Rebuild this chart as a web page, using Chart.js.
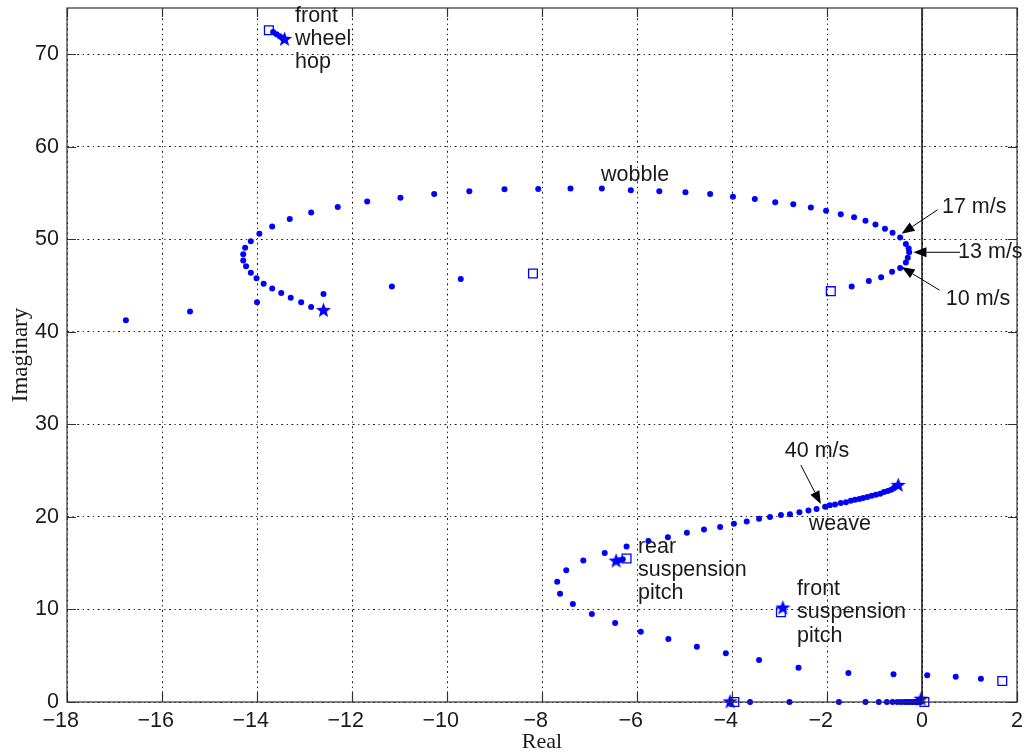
<!DOCTYPE html>
<html>
<head>
<meta charset="utf-8">
<script src="https://cdn.jsdelivr.net/npm/chart.js@4.4.1/dist/chart.umd.min.js"></script>
<style>
  html, body { margin: 0; padding: 0; background: #fff; }
</style>
</head>
<body>
<canvas id="locus" width="1026" height="756"></canvas>
<script>
// eigenvalues vs. forward speed, real / imaginary parts

// wobble
var wobbleRe = [-1.48,-1.12,-0.86,-0.63,-0.46,-0.34,-0.30,-0.27,-0.28,-0.34,-0.46,-0.62,-0.78,-0.98,-1.19,-1.43,-1.71,-2.02,-2.34,-2.71,-3.09,-3.52,-3.98,-4.46,-4.98,-5.53,-6.13,-6.74,-7.40,-8.08,-8.79,-9.53,-10.27,-10.98,-11.68,-12.30,-12.86,-13.31,-13.68,-13.95,-14.13,-14.25,-14.29,-14.29,-14.23,-14.13,-14.01,-13.86,-13.68,-13.49,-13.29,-13.07,-12.86]
var wobbleIm = [44.9,45.5,45.9,46.5,46.9,47.5,48.0,48.6,49.0,49.5,50.2,50.7,51.15,51.6,52.0,52.4,52.7,53.1,53.45,53.8,54.0,54.35,54.6,54.9,55.1,55.2,55.3,55.5,55.5,55.45,55.4,55.2,54.9,54.5,54.1,53.5,52.9,52.2,51.4,50.6,49.8,49.1,48.4,47.7,47.1,46.4,45.8,45.2,44.7,44.2,43.7,43.2,42.7]

// second branch under the wobble loop
var branchRe = [-16.76,-15.41,-14.0,-12.6,-11.16,-9.71]
var branchIm = [41.25,42.2,43.2,44.1,44.9,45.7]

// front wheel hop
var hopRe = [-13.66,-13.59,-13.52,-13.47]
var hopIm = [72.4,72.15,71.95,71.75]

// weave
var weaveRe = [-0.59,-0.65,-0.72,-0.80,-0.88,-0.97,-1.06,-1.15,-1.24,-1.32,-1.41,-1.50,-1.60,-1.71,-1.83,-1.94,-2.04,-2.22,-2.39,-2.58,-2.78,-2.97,-3.20,-3.43,-3.69,-3.96,-4.25,-4.59,-4.95,-5.35,-5.76,-6.22,-6.68,-7.13,-7.49,-7.68,-7.62,-7.35,-6.95,-6.46,-5.92,-5.34,-4.74,-4.13,-3.43,-2.60,-1.55,-0.60,0.11,0.71,1.24]
var weaveIm = [23.15,22.95,22.8,22.7,22.5,22.4,22.3,22.15,22.05,21.95,21.85,21.75,21.6,21.5,21.35,21.25,21.1,20.87,20.7,20.5,20.3,20.2,20.0,19.8,19.5,19.25,18.9,18.65,18.3,17.8,17.4,16.8,16.1,15.3,14.25,13.0,11.7,10.6,9.5,8.55,7.6,6.8,5.97,5.26,4.54,3.7,3.13,3.0,2.88,2.73,2.52]

// rear suspension pitch
var rearRe = [-6.30,-6.37]
var rearIm = [15.42,15.32]

// real eigenvalues
var realRe = [-3.62,-2.79,-1.75,-1.19,-0.91,-0.74,-0.62,-0.52,-0.44,-0.37,-0.31,-0.26,-0.21,-0.17,-0.13,-0.10,-0.07,-0.05,-0.03]
var realIm = [0,0,0,0,0,0,0,0,0,0,0,0,0,0,0,0,0,0,0]

// low speed end (squares) and high speed end (stars)
var squareRe = [-1.92,-8.19,-13.75,1.69,-6.22,-2.97,-3.95,0.05]
var squareIm = [44.4,46.3,72.6,2.27,15.5,9.7,0,0]
var starRe = [-12.60,-13.42,-0.50,-6.44,-2.93,-4.04,-0.02]
var starIm = [42.3,71.6,23.4,15.22,10.15,0,0.3]

// imaginary axis
var axisRe = [0,0]
var axisIm = [0,75]

var xTicks = [-18,-16,-14,-12,-10,-8,-6,-4,-2,0,2]
var yTicks = [0,10,20,30,40,50,60,70]

// text labels [lines, re, im, align]
var labels = [
  [['front','wheel','hop'], -13.2, 74.15, 'left'],
  [['wobble'], -6.04, 56.9, 'center'],
  [['17 m/s'], 0.42, 53.45, 'left'],
  [['13 m/s'], 0.76, 48.6, 'left'],
  [['10 m/s'], 0.5, 43.5, 'left'],
  [['40 m/s'], -2.21, 27.1, 'center'],
  [['weave'], -1.73, 19.2, 'center'],
  [['rear','suspension','pitch'], -5.98, 16.77, 'left'],
  [['front','suspension','pitch'], -2.63, 12.2, 'left']
]
// arrows [fromRe, fromIm, toRe, toIm]
var arrows = [
  [0.33, 53.2, -0.43, 50.6],
  [0.8, 48.6, -0.18, 48.6],
  [0.37, 44.5, -0.43, 47.0],
  [-2.55, 25.6, -2.13, 21.4]
]

var BLUE = '#0000ff'
var FONT = '"Liberation Sans", Arial, sans-serif'
var SERIF = '"Liberation Serif", "Times New Roman", serif'

function pts(re, im){
    var out = []
    for(var i = 0 ; i < re.length ; i++){
        out.push({x: re[i], y: im[i]})
    }
    return out
}

function makeStar(size){
    var c = document.createElement('canvas')
    c.width = size
    c.height = size
    var g = c.getContext('2d')
    var R = size/2 - 0.5, r = R*0.42
    g.beginPath()
    for(var i = 0 ; i < 10 ; i++){
        var a = -Math.PI/2 + i*Math.PI/5
        var rad = (i%2 == 0) ? R : r
        g.lineTo(size/2 + rad*Math.cos(a), size/2 + rad*Math.sin(a))
    }
    g.closePath()
    g.fillStyle = BLUE
    g.fill()
    return c
}

function dots(re, im){
    return {
        data: pts(re, im),
        pointStyle: 'circle',
        pointRadius: 3,
        pointBackgroundColor: BLUE,
        pointBorderWidth: 0,
        showLine: false,
        clip: false
    }
}

// frame, inner ticks, x tick labels, arrows and text
var decor = {
    id: 'decor',
    afterDraw: function(chart){
        var ctx = chart.ctx
        var a = chart.chartArea
        var xs = chart.scales.x, ys = chart.scales.y
        ctx.save()
        ctx.strokeStyle = '#333'
        ctx.lineWidth = 1.2
        ctx.strokeRect(a.left, a.top, a.right - a.left, a.bottom - a.top)
        ctx.beginPath()
        xTicks.forEach(function(v){
            var px = Math.round(xs.getPixelForValue(v)) + 0.5
            ctx.moveTo(px, a.bottom); ctx.lineTo(px, a.bottom - 9)
            ctx.moveTo(px, a.top); ctx.lineTo(px, a.top + 9)
        })
        yTicks.forEach(function(v){
            var py = Math.round(ys.getPixelForValue(v)) + 0.5
            ctx.moveTo(a.left, py); ctx.lineTo(a.left + 9, py)
            ctx.moveTo(a.right, py); ctx.lineTo(a.right - 9, py)
        })
        ctx.stroke()

        // x labels: digits centred on the tick, minus sign hangs left
        ctx.fillStyle = '#1a1a1a'
        ctx.font = '21.5px ' + FONT
        ctx.textBaseline = 'middle'
        xTicks.forEach(function(v){
            var px = xs.getPixelForValue(v)
            var digits = String(Math.abs(v))
            ctx.textAlign = 'center'
            ctx.fillText(digits, px, a.bottom + 19)
            if(v < 0){
                var w = ctx.measureText(digits).width
                ctx.textAlign = 'right'
                ctx.fillText('\u2212', px - w/2, a.bottom + 19)
            }
        })

        ctx.strokeStyle = '#000'
        ctx.fillStyle = '#000'
        ctx.lineWidth = 1
        arrows.forEach(function(ar){
            var x1 = xs.getPixelForValue(ar[0]), y1 = ys.getPixelForValue(ar[1])
            var x2 = xs.getPixelForValue(ar[2]), y2 = ys.getPixelForValue(ar[3])
            var ang = Math.atan2(y2 - y1, x2 - x1)
            var len = 13, w = 5
            var bx = x2 - len*Math.cos(ang), by = y2 - len*Math.sin(ang)
            ctx.beginPath()
            ctx.moveTo(x1, y1); ctx.lineTo(bx, by)
            ctx.stroke()
            ctx.beginPath()
            ctx.moveTo(x2, y2)
            ctx.lineTo(bx + w*Math.sin(ang), by - w*Math.cos(ang))
            ctx.lineTo(bx - w*Math.sin(ang), by + w*Math.cos(ang))
            ctx.closePath()
            ctx.fill()
        })

        ctx.fillStyle = '#1a1a1a'
        ctx.font = '21.5px ' + FONT
        ctx.textBaseline = 'middle'
        labels.forEach(function(lb){
            ctx.textAlign = lb[3]
            var x = xs.getPixelForValue(lb[1])
            var y = ys.getPixelForValue(lb[2])
            lb[0].forEach(function(line, i){
                ctx.fillText(line, x, y + i*23.3)
            })
        })
        ctx.restore()
    }
}

var ctx = document.getElementById('locus').getContext('2d')
var locus = new Chart(ctx, {
    type: 'scatter',
    plugins: [decor],
    data: {
        datasets: [
            {
                data: pts(axisRe, axisIm),
                showLine: true,
                borderColor: '#000',
                borderWidth: 1.4,
                pointRadius: 0
            },
            dots(wobbleRe, wobbleIm),
            dots(branchRe, branchIm),
            dots(hopRe, hopIm),
            dots(weaveRe, weaveIm),
            dots(rearRe, rearIm),
            dots(realRe, realIm),
            {
                data: pts(squareRe, squareIm),
                pointStyle: 'rect',
                pointRadius: 6.2,
                pointBackgroundColor: 'rgba(0,0,0,0)',
                pointBorderColor: BLUE,
                pointBorderWidth: 1.3,
                showLine: false,
                clip: false
            },
            {
                data: pts(starRe, starIm),
                pointStyle: makeStar(17),
                showLine: false,
                clip: false
            }
        ]
    },
    options: {
        responsive: false,
        animation: false,
        devicePixelRatio: 1,
        layout: {
            padding: {left: 0, right: 9, top: 8, bottom: 0}
        },
        plugins: {
            legend: {display: false},
            tooltip: {enabled: false}
        },
        scales: {
            x: {
                type: 'linear',
                min: -18,
                max: 2,
                afterBuildTicks: function(s){
                    s.ticks = xTicks.map(function(v){ return {value: v} })
                },
                afterFit: function(s){
                    s.height = 54
                    s.paddingLeft = 0
                    s.paddingRight = 0
                },
                grid: {
                    color: '#1a1a1a',
                    lineWidth: 1,
                    drawTicks: false
                },
                border: {display: false, dash: [2, 3.5, 1.2, 3.5]},
                ticks: {display: false},
                title: {
                    display: true,
                    text: 'Real',
                    color: '#1a1a1a',
                    font: {family: SERIF, size: 22},
                    padding: {top: 0, bottom: 1}
                }
            },
            y: {
                type: 'linear',
                min: 0,
                max: 75,
                afterBuildTicks: function(s){
                    s.ticks = yTicks.map(function(v){ return {value: v} })
                },
                afterFit: function(s){
                    s.width = 67
                    s.paddingTop = 0
                    s.paddingBottom = 0
                },
                grid: {
                    color: '#1a1a1a',
                    lineWidth: 1,
                    drawTicks: false
                },
                border: {display: false, dash: [2, 3.5, 1.2, 3.5]},
                ticks: {
                    padding: 8,
                    color: '#1a1a1a',
                    font: {family: FONT, size: 21.5}
                },
                title: {
                    display: true,
                    text: 'Imaginary',
                    color: '#1a1a1a',
                    font: {family: SERIF, size: 23},
                    padding: {top: 7, bottom: 0}
                }
            }
        }
    }
})
</script>
</body>
</html>
